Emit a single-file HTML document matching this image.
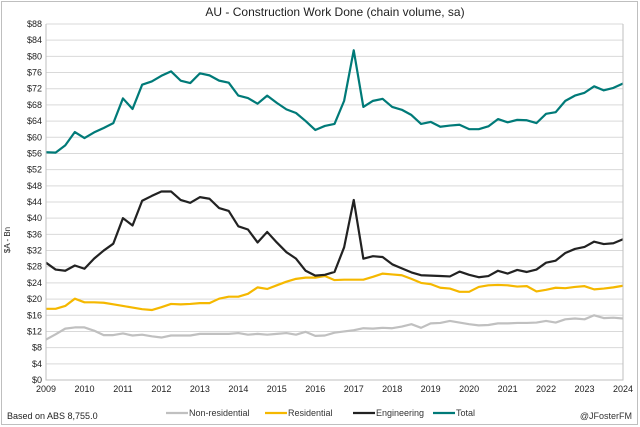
<!DOCTYPE html>
<html><head><meta charset="utf-8"><style>
html,body{margin:0;padding:0;background:#fff}
svg{display:block;font-family:"Liberation Sans",sans-serif}
</style></head><body>
<svg id="c" width="640" height="427">
<rect x="1.5" y="1.5" width="636" height="423" fill="#fff" stroke="#bfbfbf"/>
<text x="335" y="16" text-anchor="middle" font-size="12" fill="#222">AU - Construction Work Done (chain volume, sa)</text>
<text transform="translate(10,240) rotate(-90)" text-anchor="middle" font-size="8" fill="#222">$A - Bn</text>
<g id="grid"></g><g id="lines"></g><g id="axes"></g>
<text x="7" y="419" font-size="9" fill="#222">Based on ABS  8,755.0</text>
<text x="632" y="419" text-anchor="end" font-size="9" fill="#333">@JFosterFM</text>
<g id="legend"></g>
</svg>
<script>
const years=[2009,2010,2011,2012,2013,2014,2015,2016,2017,2018,2019,2020,2021,2022,2023,2024];
const yTicks=[0,4,8,12,16,20,24,28,32,36,40,44,48,52,56,60,64,68,72,76,80,84,88];
const seriesNames=["Non-residential","Residential","Engineering","Total"];
const seriesColors=["#c0c0c0","#f5b800","#222222","#007a78"];
const nonres=[10,11.3,12.7,13,13,12.2,11.1,11.1,11.5,11,11.2,10.8,10.5,11,11,11,11.4,11.4,11.4,11.4,11.6,11.2,11.4,11.2,11.4,11.6,11.2,11.9,10.9,11,11.7,12,12.3,12.8,12.7,12.9,12.8,13.2,13.8,12.9,14,14.1,14.6,14.2,13.8,13.5,13.6,14,14,14.1,14.1,14.2,14.6,14.2,15,15.2,15,16,15.3,15.4,15.2];
const resid=[17.6,17.6,18.3,20.1,19.2,19.2,19.1,18.7,18.3,17.9,17.5,17.3,18,18.8,18.7,18.8,19,19,20.1,20.6,20.6,21.3,22.9,22.5,23.4,24.3,25,25.3,25.3,25.7,24.7,24.8,24.8,24.8,25.5,26.3,26.1,25.9,25,24,23.7,22.8,22.6,21.8,21.8,23,23.4,23.5,23.4,23.1,23.2,21.9,22.3,22.8,22.7,23,23.2,22.4,22.6,22.9,23.3];
const engin=[29,27.3,27,28.3,27.5,30,32,33.7,40,38.2,44.3,45.5,46.6,46.6,44.5,43.8,45.2,44.8,42.5,41.8,38,37.2,34,36.6,34,31.6,30,27,25.8,26,26.7,32.8,44.5,30,30.6,30.4,28.6,27.6,26.6,25.9,25.8,25.7,25.6,26.8,26,25.4,25.7,27,26.3,27.2,26.7,27.3,29,29.5,31.4,32.4,32.9,34.2,33.6,33.8,34.8];
const total=[56.3,56.2,58,61.3,59.8,61.2,62.3,63.5,69.6,67,73,73.8,75.2,76.3,74,73.4,75.8,75.3,74,73.5,70.3,69.7,68.3,70.3,68.5,66.9,66,64,61.8,62.8,63.3,69,81.5,67.5,69,69.5,67.5,66.8,65.5,63.3,63.8,62.6,62.9,63.1,62,62,62.7,64.5,63.7,64.3,64.2,63.5,65.8,66.2,69,70.3,71,72.6,71.6,72.2,73.3];
const seriesData=[nonres,resid,engin,total];
const L=46,R=623,T=24,B=380;
const xq=i=>L+(R-L)*i/60;
const xy=y=>L+(R-L)*(y-2009)/15;
const yv=v=>B-(B-T)*v/88;
const NS="http://www.w3.org/2000/svg";
function mk(t,a,p){const e=document.createElementNS(NS,t);for(const k in a)e.setAttribute(k,a[k]);p.appendChild(e);return e;}
const grid=document.getElementById('grid'),axes=document.getElementById('axes'),lines=document.getElementById('lines'),leg=document.getElementById('legend');
yTicks.forEach(v=>{
 const g=mk('line',{x1:L,x2:R,y1:yv(v),y2:yv(v),stroke:'#d9d9d9','stroke-width':1},grid);
 
 
 const t=mk('text',{x:L-4,y:yv(v)+3,'text-anchor':'end','font-size':9,fill:'#222'},axes);
 t.textContent='$'+v;
 
 
});
const ax=mk('path',{d:`M${L},${T}V${B}H${R}V${T}`,fill:'none',stroke:'#bfbfbf'},axes);


years.forEach(y=>{
 const t=mk('text',{x:xy(y),y:B+12,'text-anchor':'middle','font-size':9,fill:'#222'},axes);
 t.textContent=y;
 
 
});
seriesData.forEach((d,s)=>{
 const p=mk('polyline',{points:d.map((v,i)=>xq(i)+','+yv(v)).join(' '),fill:'none',stroke:seriesColors[s],'stroke-width':2.2,'stroke-linejoin':'round'},lines);
 
 
});
const lx=[166,265,353,433];
seriesNames.forEach((n,s)=>{
 const g=mk('g',{},leg);
 
 
 mk('line',{x1:lx[s],x2:lx[s]+22,y1:413,y2:413,stroke:seriesColors[s],'stroke-width':2.2},g);
 const t=mk('text',{x:lx[s]+23,y:416,'font-size':9,fill:'#333'},g);
 t.textContent=n;
});
</script>
</body></html>
